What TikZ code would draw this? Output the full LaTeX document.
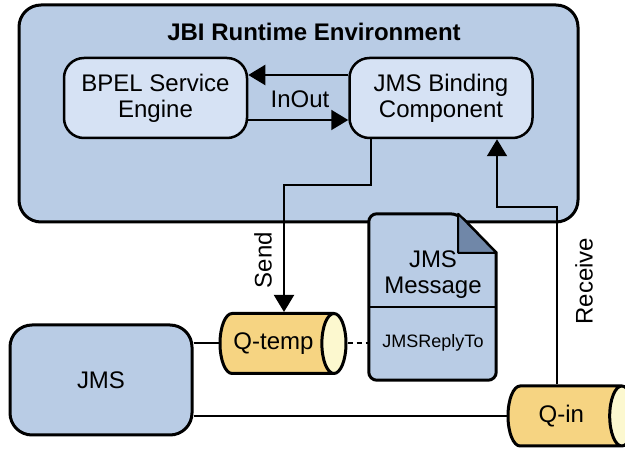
\documentclass[tikz,border=0pt]{standalone}
\usepackage{fontspec}
\setmainfont{Liberation Sans}
\usetikzlibrary{arrows.meta,shapes.geometric}
\definecolor{envblue}{HTML}{B9CCE5}
\definecolor{boxblue}{HTML}{D6E2F4}
\definecolor{foldblue}{HTML}{7087A8}
\definecolor{qbody}{HTML}{F6D482}
\definecolor{qend}{HTML}{FCF8CF}
\begin{document}
\begin{tikzpicture}[x=1pt, y=-1pt,
    font=\fontsize{24}{26}\selectfont,
    envbox/.style={draw, line width=3pt, fill=envblue, rounded corners=22pt},
    compbox/.style={draw, line width=2.5pt, fill=boxblue, rounded corners=20pt, align=center, minimum width=183pt, minimum height=80pt},
    queue/.style={cylinder, draw, line width=3pt, shape border rotate=0, aspect=0.85, cylinder uses custom fill, cylinder body fill=qbody, cylinder end fill=qend, minimum height=126pt, minimum width=60pt, anchor=shape center},
    arr/.style={-{Triangle[length=17pt, width=20pt]}, line width=2pt},
    link/.style={line width=2pt}]
    \useasboundingbox (0,0) rectangle (625,449);
    % JBI container and its components
    \node[envbox, minimum width=559pt, minimum height=217pt] (env) at (298.5,113.5) {};
    \node[font=\fontsize{24}{26}\selectfont\bfseries] (title) at (314,32) {JBI Runtime Environment};
    \node[compbox] (bpel) at (155.5,98) {BPEL Service\\Engine};
    \node[compbox] (jmsbc) at (441,98) {JMS Binding\\Component};
    \node (inout) at (300,99) {InOut};

    % JMS server and queues
    \node[envbox, minimum width=182pt, minimum height=110pt] (jms) at (101,380) {JMS};
    \node[queue] (qtemp) at (283,343.5) {Q-temp};
    \node[queue] (qin) at (571,416) {Q-in};

    % JMS message document
    \node[minimum width=127pt, minimum height=166pt, inner sep=0pt] (msg) at (432.5,297) {};
    \draw[line width=3pt, fill=envblue, rounded corners=8pt] (msg.north west) -- ([xshift=-38pt]msg.north east) [sharp corners] -- ([yshift=-39pt]msg.north east) [rounded corners=8pt] -- (msg.south east) -- (msg.south west) -- cycle;
    \draw[line width=2pt, fill=foldblue, line join=round] ([xshift=-38pt]msg.north east) -- ([xshift=-38pt,yshift=-39pt]msg.north east) -- ([yshift=-39pt]msg.north east) -- cycle;
    \draw[line width=2pt] ([yshift=-93pt]msg.north west) -- ([yshift=-93pt]msg.north east);
    \node[align=center] (msgtitle) at (433,275) {JMS\\Message};
    \node[font=\fontsize{18}{20}\selectfont] (replyto) at (433,343) {JMSReplyTo};

    % connectors
    \coordinate (sendbend) at (284,185);
    \coordinate (recvbend) at (497,207);
    \draw[arr] (jmsbc.west |- 0,75) -- (bpel.east |- 0,75);
    \draw[arr] (bpel.east |- 0,120) -- (jmsbc.west |- 0,120);
    \draw[arr] ([xshift=23pt]jmsbc.south west) |- (sendbend) -- (sendbend |- qtemp.north);
    \draw[arr] ([xshift=-4pt]qin.north) |- (recvbend) -- (recvbend |- jmsbc.south);
    \draw[link] (qtemp.west -| jms.east) -- (qtemp.west);
    \draw[link] (qin.west -| jms.east) -- (qin.west);
    \draw[link, dashed, dash pattern=on 5pt off 4pt] (qtemp.east) -- (qtemp.east -| msg.west);
    \node[rotate=90] (send) at (263,260) {Send};
    \node[rotate=90] (receive) at (584,281) {Receive};
\end{tikzpicture}
\end{document}
